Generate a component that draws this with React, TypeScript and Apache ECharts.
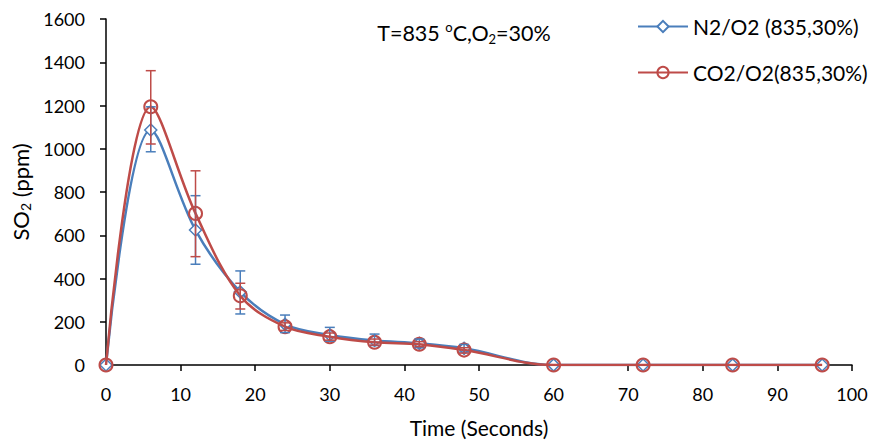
import React, { useEffect, useRef } from "react";
import * as echarts from "echarts";

const times = [0, 6, 12, 18, 24, 30, 36, 42, 48, 60, 72, 84, 96];
const n2Values = [0, 1087, 624, 338, 188, 139, 113, 100, 77, 0, 0, 0, 0];
const co2Values = [0, 1194, 701, 320, 177, 131, 105, 96, 69, 0, 0, 0, 0];
const n2Low = [0, 986, 466, 236, 150, 110, 90, 80, 60, 0, 0, 0, 0];
const n2High = [0, 1194, 783, 435, 231, 174, 143, 120, 95, 0, 0, 0, 0];
const co2Low = [0, 1022, 501, 259, 160, 115, 92, 85, 55, 0, 0, 0, 0];
const co2High = [0, 1361, 898, 378, 195, 148, 120, 108, 80, 0, 0, 0, 0];
const yTicks = [0, 200, 400, 600, 800, 1000, 1200, 1400, 1600];
const xTicks = [0, 10, 20, 30, 40, 50, 60, 70, 80, 90, 100];

const BLUE = "#4A7EBB";
const RED = "#BE4B48";
const FONT = "Lato";

function errorSeries(name: string, low: number[], high: number[], color: string) {
  const data = times.map((t, i) => [t, low[i], high[i]]).filter((d) => d[2] - d[1] > 0);
  return {
    type: "custom",
    name,
    data,
    z: 5,
    silent: true,
    renderItem: (params: any, api: any) => {
      const x = api.value(0);
      const lo = api.coord([x, api.value(1)]);
      const hi = api.coord([x, api.value(2)]);
      const w = 5;
      const style = { stroke: color, lineWidth: 1.5 };
      return {
        type: "group",
        children: [
          { type: "line", shape: { x1: lo[0], y1: lo[1], x2: hi[0], y2: hi[1] }, style },
          { type: "line", shape: { x1: lo[0] - w, y1: lo[1], x2: lo[0] + w, y2: lo[1] }, style },
          { type: "line", shape: { x1: hi[0] - w, y1: hi[1], x2: hi[0] + w, y2: hi[1] }, style },
        ],
      };
    },
  };
}

export default function App() {
  const ref = useRef<HTMLDivElement>(null);
  useEffect(() => {
    if (!ref.current) return;
    const chart = echarts.init(ref.current, undefined, { renderer: "svg" });
    chart.setOption({
      animation: false,
      textStyle: { fontFamily: FONT },
      grid: {
        left: 106,
        right: 21,
        top: 19,
        bottom: 76,
        containLabel: false,
        outerBoundsMode: "none",
      },
      graphic: [
        {
          type: "text",
          x: 464,
          y: 33,
          style: {
            text: "T=835 {sup|o}C,O{sub|2}=30%",
            fontFamily: FONT,
            fontSize: 21.5,
            fill: "#000",
            textAlign: "center",
            textVerticalAlign: "middle",
            rich: {
              sup: { fontSize: 13, fontFamily: FONT, padding: [0, 0, 12, 0] },
              sub: { fontSize: 13, fontFamily: FONT, padding: [11, 0, 0, 0] },
            },
          },
        },
      ],
      legend: {
        data: ["N2/O2 (835,30%)", "CO2/O2(835,30%)"],
        orient: "vertical",
        left: 632,
        top: 11,
        itemWidth: 50,
        itemHeight: 14,
        itemGap: 25,
        textStyle: { fontFamily: FONT, fontSize: 21, color: "#000" },
      },
      xAxis: {
        type: "value",
        min: 0,
        max: 100,
        interval: 10,
        name: "Time (Seconds)",
        nameLocation: "middle",
        nameGap: 52,
        nameTextStyle: { fontFamily: FONT, fontSize: 21, color: "#000", lineHeight: 21 },
        axisLine: { lineStyle: { color: "#000", width: 1.5 } },
        axisTick: { show: true, length: 6, lineStyle: { color: "#000", width: 1.5 } },
        axisLabel: { fontFamily: FONT, fontSize: 18, color: "#000", margin: 20 },
        splitLine: { show: false },
      },
      yAxis: {
        type: "value",
        min: 0,
        max: 1600,
        interval: 200,
        name: "SO{sub|2} (ppm)",
        nameLocation: "middle",
        nameGap: 70,
        nameRotate: 90,
        nameTextStyle: {
          fontFamily: FONT,
          fontSize: 22,
          color: "#000",
          rich: { sub: { fontSize: 14, fontFamily: FONT, color: "#000", padding: [10, 0, 0, 0] } },
        },
        axisLine: { show: true, lineStyle: { color: "#000", width: 1.5 } },
        axisTick: { show: true, length: 6, lineStyle: { color: "#000", width: 1.5 } },
        axisLabel: {
          fontFamily: FONT,
          fontSize: 18,
          color: "#000",
          margin: 21,
          formatter: (v: number) => String(v),
        },
        splitLine: { show: false },
      },
      series: [
        {
          type: "line",
          name: "N2/O2 (835,30%)",
          data: times.map((t, i) => [t, n2Values[i]]),
          smooth: 0.35,
          symbol: "diamond",
          symbolSize: 12,
          showAllSymbol: true,
          z: 3,
          lineStyle: { color: BLUE, width: 2.5 },
          itemStyle: { color: "#fff", borderColor: BLUE, borderWidth: 1.5 },
        },
        {
          type: "line",
          name: "CO2/O2(835,30%)",
          data: times.map((t, i) => [t, co2Values[i]]),
          smooth: 0.35,
          symbol: "circle",
          symbolSize: 13,
          showAllSymbol: true,
          z: 4,
          lineStyle: { color: RED, width: 2.5 },
          itemStyle: { color: "transparent", borderColor: RED, borderWidth: 2 },
        },
        errorSeries("n2err", n2Low, n2High, BLUE),
        errorSeries("co2err", co2Low, co2High, RED),
      ],
    });
    return () => chart.dispose();
  }, []);
  return (
    <div
      ref={ref}
      style={{ position: "absolute", left: 0, top: 0, width: 873, height: 441 }}
    />
  );
}
